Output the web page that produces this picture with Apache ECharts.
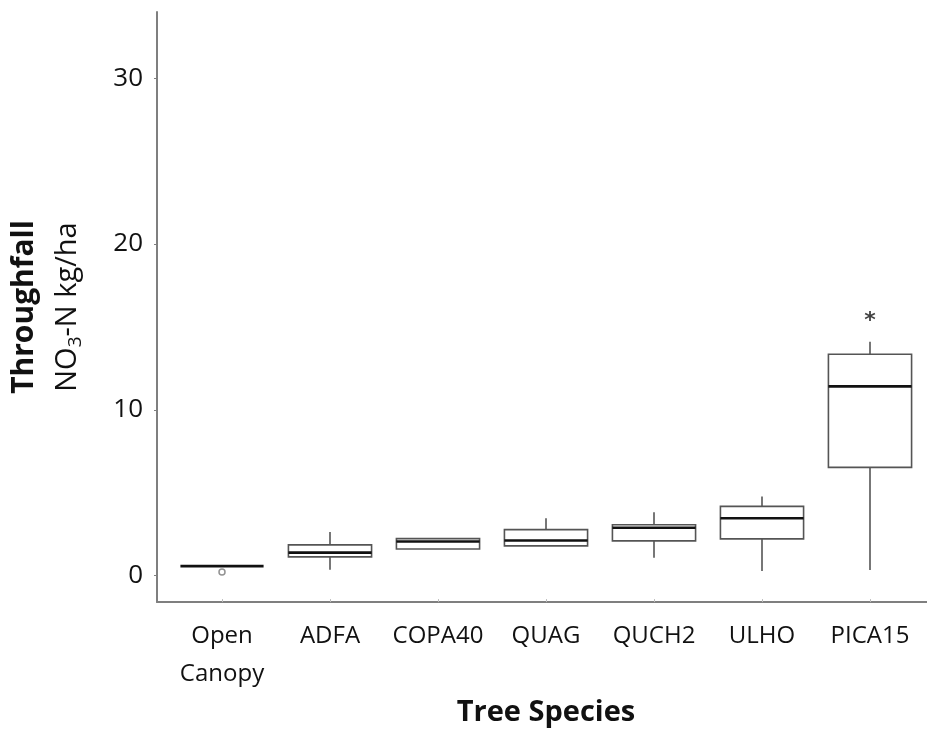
<!DOCTYPE html>
<html>
<head>
<meta charset="utf-8">
<script src="https://cdn.jsdelivr.net/npm/echarts@6/dist/echarts.min.js"></script>
<style>
  html, body { margin: 0; padding: 0; background: #fff; }
  #chart { width: 927px; height: 732px; }
</style>
</head>
<body>
<div id="chart"></div>
<script>
// Throughfall NO3-N (kg/ha) by tree species
const species = ['Open\nCanopy', 'ADFA', 'COPA40', 'QUAG', 'QUCH2', 'ULHO', 'PICA15'];
const whiskerLow  = [0.40, 0.18, 1.44, 1.63, 0.90, 0.10, 0.16];
const q1          = [0.40, 0.96, 1.44, 1.63, 1.93, 2.05, 6.39];
const median      = [0.40, 1.22, 1.89, 1.95, 2.73, 3.30, 11.30];
const q3          = [0.40, 1.69, 2.07, 2.61, 2.91, 4.02, 13.25];
const whiskerHigh = [0.40, 2.47, 2.07, 3.31, 3.67, 4.62, 14.00];
const outliers = [[0, 0.05]];
const significance = [[6, 15.6]];
const yTicks = [0, 10, 20, 30];

const Y_MIN = -1.6, Y_MAX = 34;
const AXIS_GRAY = '#7f7f7f';

const boxData = species.map((s, i) => [i, whiskerLow[i], q1[i], median[i], q3[i], whiskerHigh[i]]);

function renderBox(params, api) {
  const i = api.value(0);
  const lo = api.value(1), a = api.value(2), m = api.value(3), b = api.value(4), hi = api.value(5);
  const band = api.size([1, 0])[0];
  const half = band * 0.385;
  const x = api.coord([i, m])[0];
  const yLo = api.coord([i, lo])[1];
  const yA = api.coord([i, a])[1];
  const yM = api.coord([i, m])[1];
  const yB = api.coord([i, b])[1];
  const yHi = api.coord([i, hi])[1];
  const edge = { stroke: '#555', lineWidth: 1.6, fill: null };
  const children = [];
  if (hi > b) children.push({ type: 'line', shape: { x1: x, y1: yB, x2: x, y2: yHi }, style: edge });
  if (lo < a) children.push({ type: 'line', shape: { x1: x, y1: yA, x2: x, y2: yLo }, style: edge });
  if (b > a) children.push({ type: 'rect', shape: { x: x - half, y: yB, width: 2 * half, height: yA - yB }, style: { stroke: '#555', lineWidth: 1.6, fill: '#fff' } });
  children.push({ type: 'line', shape: { x1: x - half, y1: yM, x2: x + half, y2: yM }, style: { stroke: '#111', lineWidth: 2.6 } });
  return { type: 'group', children };
}

const chart = echarts.init(document.getElementById('chart'), null, { renderer: 'canvas' });
chart.setOption({
  animation: false,
  backgroundColor: '#fff',
  grid: [
    { left: 157, right: 0, top: 12, bottom: 130 },
    { left: 168, right: 3, top: 12, bottom: 130 }
  ],
  xAxis: [
    {
      gridIndex: 0, type: 'value', min: 0, max: 1,
      axisLine: { show: true, onZero: false, lineStyle: { color: AXIS_GRAY, width: 2 } },
      axisTick: { show: false }, axisLabel: { show: false }, splitLine: { show: false }
    },
    {
      gridIndex: 1, type: 'category', data: species,
      axisLine: { show: false, onZero: false },
      axisTick: { show: true, alignWithLabel: true, length: 3, lineStyle: { color: '#bbb', width: 1 } },
      axisLabel: { margin: 18, fontFamily: 'Open Sans', fontSize: 24, color: '#111', lineHeight: 38, interval: 0 },
      name: 'Tree Species', nameLocation: 'middle', nameGap: 98,
      nameTextStyle: { fontFamily: 'Open Sans', fontWeight: 'bold', fontSize: 29, color: '#111' },
      splitLine: { show: false }
    }
  ],
  yAxis: [
    {
      gridIndex: 0, type: 'value', min: Y_MIN, max: Y_MAX,
      axisLine: { show: true, lineStyle: { color: AXIS_GRAY, width: 2 } },
      axisTick: { show: true, length: 3, customValues: yTicks, lineStyle: { color: AXIS_GRAY, width: 1 } },
      axisLabel: { customValues: yTicks, margin: 14, fontFamily: 'Open Sans', fontSize: 26, color: '#111' },
      splitLine: { show: false },
      name: '{t|Throughfall}\n{n|NO}{s|3}{n|-N kg/ha}',
      nameLocation: 'middle', nameRotate: 90, nameGap: 67,
      nameTextStyle: {
        rich: {
          t: { fontFamily: 'Open Sans', fontWeight: 'bold', fontSize: 30, color: '#111', lineHeight: 44 },
          n: { fontFamily: 'Open Sans', fontSize: 29, color: '#111', lineHeight: 44 },
          s: { fontFamily: 'Open Sans', fontSize: 19, color: '#111', lineHeight: 44, padding: [16, 0, 0, 0] }
        }
      }
    },
    {
      gridIndex: 1, type: 'value', min: Y_MIN, max: Y_MAX, show: false, splitLine: { show: false }
    }
  ],
  series: [
    {
      type: 'custom', xAxisIndex: 1, yAxisIndex: 1,
      renderItem: renderBox,
      encode: { x: 0, y: [1, 2, 3, 4, 5] },
      data: boxData
    },
    {
      type: 'scatter', xAxisIndex: 1, yAxisIndex: 1,
      symbol: 'circle', symbolSize: 6,
      itemStyle: { color: '#fff', borderColor: '#777', borderWidth: 1.5 },
      data: outliers
    },
    {
      type: 'scatter', xAxisIndex: 1, yAxisIndex: 1,
      symbolSize: 0,
      label: { show: true, position: 'inside', formatter: '*', fontFamily: 'DejaVu Sans', fontWeight: 'bold', fontSize: 22, color: '#111', offset: [0, 6] },
      data: significance
    }
  ]
});
</script>
</body>
</html>
